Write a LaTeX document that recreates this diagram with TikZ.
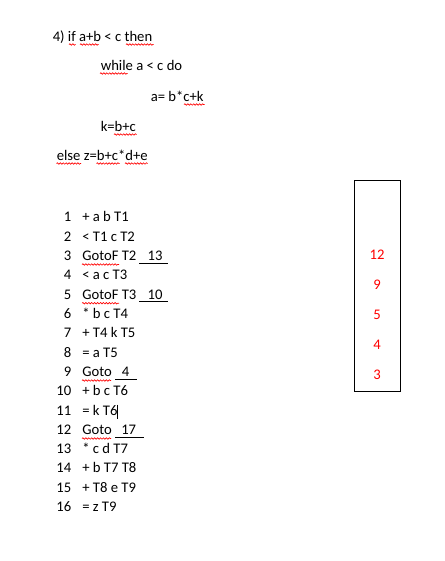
\documentclass[tikz,border=0pt]{standalone}
\usepackage{fontspec}
\setmainfont{Carlito}
\usetikzlibrary{decorations.pathmorphing}
\begin{document}
\begin{tikzpicture}[x=0.75pt,y=-0.75pt,
  txt/.style={anchor=base west, inner sep=0pt, font=\fontsize{11}{13}\selectfont},
  num/.style={anchor=base east, inner sep=0pt, font=\fontsize{11}{13}\selectfont},
  rnum/.style={anchor=base, inner sep=0pt, text=red, font=\fontsize{11}{13}\selectfont},
  squig/.style={draw=red, line width=0.5pt, decorate, decoration={snake, amplitude=0.55pt, segment length=2.2pt}},
  uline/.style={draw=black, line width=0.75pt},
  stackbox/.style={draw=black, line width=0.75pt}]
\useasboundingbox (0,0) rectangle (445,561);

% top code
\node[txt] (t1) at (52.5,41) {4) if a+b < c then};
\node[txt] (t2) at (100.5,70) {while a < c do};
\node[txt] (t3) at (150.5,101) {a= b*c+k};
\node[txt] (t4) at (100.5,131) {k=b+c};
\node[txt] (t5) at (56.5,160) {else z=b+c*d+e};

% spell-check squiggles
\draw[squig] (69,44.5) -- (75.5,44.5);
\draw[squig] (80,44.5) -- (98.5,44.5);
\draw[squig] (126,44.5) -- (153.5,44.5);
\draw[squig] (100,73.5) -- (127.5,73.5);
\draw[squig] (184,104.5) -- (204.5,104.5);
\draw[squig] (114,134.5) -- (136.5,134.5);
\draw[squig] (56.5,163.5) -- (81,163.5);
\draw[squig] (96.5,163.5) -- (119.5,163.5);
\draw[squig] (125,163.5) -- (147.5,163.5);

% quadruples
\foreach \n/\t in {1/{+ a b T1},2/{< T1 c T2},3/{GotoF T2},4/{< a c T3},5/{GotoF T3},6/{* b c T4},7/{+ T4 k T5},8/{= a T5},9/{Goto},10/{+ b c T6},11/{= k T6},12/{Goto},13/{* c d T7},14/{+ b T7 T8},15/{+ T8 e T9},16/{= z T9}}{
  \pgfmathsetmacro{\yy}{221.7+(\n-1)*19.33}
  \node[num] (n\n) at (71.5,\yy) {\n};
  \node[txt] (l\n) at (82,\yy) {\t};
}
% jump targets
\node[txt] (j3) at (147.3,260.36) {13};
\node[txt] (j5) at (147.3,299.02) {10};
\node[txt] (j9) at (121.7,376.34) {4};
\node[txt] (j12) at (121,434.33) {17};
\draw[uline] (139.3,263.2) -- (168.3,263.2);
\draw[uline] (139.3,301.9) -- (168.3,301.9);
\draw[uline] (115,379.2) -- (136.7,379.2);
\draw[uline] (115,437.2) -- (144,437.2);
\draw[squig] (82,264.5) -- (119,264.5);
\draw[squig] (82,303.2) -- (119,303.2);
\draw[squig] (82,380.5) -- (111,380.5);
\draw[squig] (82,438.5) -- (111,438.5);
% text cursor
\draw[line width=0.75pt] (117.3,404.5) -- (117.3,418.5);

% stack box
\draw[stackbox] (354.5,180.5) rectangle (400.5,391.5);
\node[rnum] (s1) at (377,259.5) {12};
\node[rnum] (s2) at (377,289.5) {9};
\node[rnum] (s3) at (377,319.5) {5};
\node[rnum] (s4) at (377,349.5) {4};
\node[rnum] (s5) at (377,379.5) {3};
\end{tikzpicture}
\end{document}
